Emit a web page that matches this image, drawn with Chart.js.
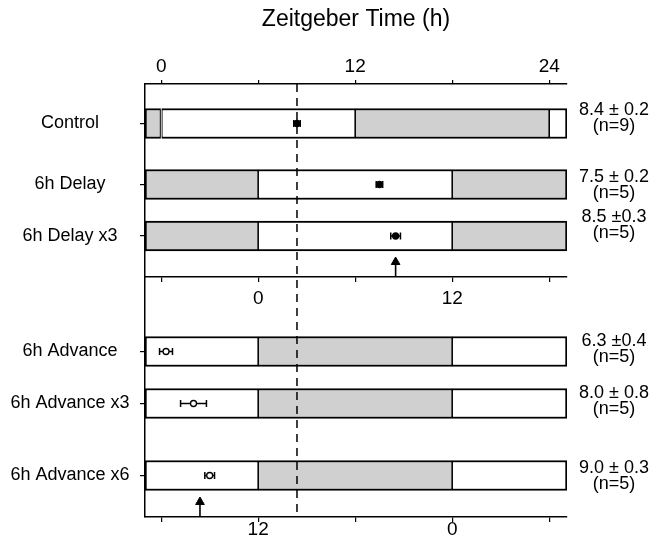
<!DOCTYPE html>
<html>
<head>
<meta charset="utf-8">
<script src="https://cdn.jsdelivr.net/npm/chart.js@4/dist/chart.umd.min.js"></script>
<style>
  body { margin: 0; background: #fff; }
  #wrap { width: 655px; height: 547px; }
</style>
</head>
<body>
<div id="wrap"><canvas id="phaseChart"></canvas></div>
<script>
// groups, top to bottom
var groups = ["Control", "6h Delay", "6h Delay x3", "6h Advance", "6h Advance x3", "6h Advance x6"];
// LD shift of each group relative to control ZT (h), + = delay
var ldShift = [0, 6, 6, -6, -6, -6];
// activity onset in each group's own ZT (h), SEM and n
var onsetMean = [8.4, 7.5, 8.5, 6.3, 8.0, 9.0];
var onsetSem = [0.2, 0.2, 0.3, 0.4, 0.8, 0.3];
var nAnimals = [9, 5, 5, 5, 5, 5];
var openMarker = [false, false, false, true, true, true];
var statText = ["8.4 \u00b1 0.2", "7.5 \u00b1 0.2", "8.5 \u00b10.3", "6.3 \u00b10.4", "8.0 \u00b1 0.8", "9.0 \u00b1 0.3"];
// arrows (own ZT, h)
var arrowTime = [null, null, 8.5, null, null, 8.4];
// axis ticks (control ZT)
var tickHours = [0, 6, 12, 18, 24];
var midShift = 6, bottomShift = -6;
var tMin = -1, tMax = 25.1;

// layout of the lanes (vertical units, 0 = top of plot)
var laneMax = 433;
var lanePos = [39.5, 100.5, 152, 267.5, 319.5, 391.5];
var midAxisPos = 193;
var arrowBase = [null, null, midAxisPos, null, null, laneMax];
var statOffset = [-8.5, -2.5, -14, -5.5, -5.5, -2.5];

Chart.defaults.font.family = '"Liberation Sans", Arial, sans-serif';
Chart.defaults.color = "#000";

function addSeg(arr, a, b, y) {
  a = Math.max(a, tMin);
  b = Math.min(b, tMax);
  if (b > a) arr.push({ x: [a, b], y: y });
}

var lightBars = [], darkBars = [];
groups.forEach(function(g, i) {
  for (var k = -1; k <= 1; k++) {
    var on = ldShift[i] + 24 * k;
    addSeg(lightBars, on, on + 12, lanePos[i]);
    addSeg(darkBars, on + 12, on + 24, lanePos[i]);
  }
});

// inner dividers are shared by two segments, so give each half the width
function segBorder(ctx) {
  var r = ctx.raw;
  if (!r) return 2;
  return { top: 2, bottom: 2, left: r.x[0] <= tMin ? 2 : 1.1, right: r.x[1] >= tMax ? 2 : 1.1 };
}

var datasets = [];

// onset markers
datasets.push({
  type: "line",
  showLine: false,
  data: groups.map(function(g, i) { return { x: onsetMean[i] + ldShift[i], y: lanePos[i] }; }),
  pointRadius: 3,
  pointStyle: "circle",
  pointBackgroundColor: openMarker.map(function(o) { return o ? "#fff" : "#000"; }),
  pointBorderColor: "#000",
  pointBorderWidth: 1.3,
  xAxisID: "x", yAxisID: "y",
  order: 0
});

// error bars
groups.forEach(function(g, i) {
  var m = onsetMean[i] + ldShift[i];
  datasets.push({
    type: "line",
    data: [{ x: m - onsetSem[i], y: lanePos[i] }, { x: m + onsetSem[i], y: lanePos[i] }],
    borderColor: "#000",
    borderWidth: 1.5,
    pointStyle: "line",
    pointRotation: 90,
    pointRadius: 3.5,
    pointBorderWidth: 1.5,
    pointBorderColor: "#000",
    xAxisID: "x", yAxisID: "y",
    order: 1
  });
});

// arrows
groups.forEach(function(g, i) {
  if (arrowTime[i] === null) return;
  var t = arrowTime[i] + ldShift[i];
  datasets.push({
    type: "line",
    data: [{ x: t, y: arrowBase[i] }, { x: t, y: arrowBase[i] - 15 }],
    borderColor: "#000",
    borderWidth: 1.6,
    pointStyle: "triangle",
    pointRadius: [0, 5],
    pointBackgroundColor: "#000",
    pointBorderColor: "#000",
    pointBorderWidth: 1,
    xAxisID: "x", yAxisID: "y",
    order: 1
  });
});

// control onset reference
datasets.push({
  type: "line",
  data: [{ x: onsetMean[0], y: 0 }, { x: onsetMean[0], y: laneMax }],
  borderColor: "#000",
  borderWidth: 1.5,
  borderDash: [8, 6],
  pointRadius: 0,
  xAxisID: "x", yAxisID: "y",
  order: 2
});

// light / dark bars
datasets.push({
  label: "light",
  data: lightBars,
  backgroundColor: "#fff",
  borderColor: "#000",
  borderWidth: segBorder,
  borderSkipped: false,
  barThickness: 30,
  grouped: false,
  xAxisID: "x", yAxisID: "y",
  order: 3
});
datasets.push({
  label: "dark",
  data: darkBars,
  backgroundColor: "#d0d0d0",
  borderColor: "#000",
  borderWidth: segBorder,
  borderSkipped: false,
  barThickness: 30,
  grouped: false,
  xAxisID: "x", yAxisID: "y",
  order: 3
});

function setHourTicks(scale) {
  scale.ticks = tickHours.map(function(v) { return { value: v }; });
}
function shiftedLabel(shift) {
  return function(v) {
    var h = ((v - shift) % 24 + 24) % 24;
    return h % 12 === 0 ? String(h) : "";
  };
}

var statLabels = {
  id: "statLabels",
  afterDraw: function(chart) {
    var ctx = chart.ctx, ys = chart.scales.y, x = chart.chartArea.right + 47;
    ctx.save();
    ctx.fillStyle = "#000";
    ctx.textAlign = "center";
    ctx.textBaseline = "alphabetic";
    ctx.font = '18px "Liberation Sans", Arial, sans-serif';
    groups.forEach(function(g, i) {
      var py = ys.getPixelForValue(lanePos[i]) + statOffset[i];
      ctx.fillText(statText[i], x, py);
      ctx.fillText("(n=" + nAnimals[i] + ")", x, py + 15.5);
    });
    ctx.restore();
  }
};

var chart = new Chart(document.getElementById("phaseChart").getContext("2d"), {
  type: "bar",
  data: { datasets: datasets },
  plugins: [statLabels],
  options: {
    indexAxis: "y",
    responsive: true,
    maintainAspectRatio: false,
    animation: false,
    layout: { padding: { left: 0, right: 88, top: 0, bottom: 0 } },
    plugins: { legend: { display: false }, tooltip: { enabled: false } },
    scales: {
      x: {
        type: "linear", position: "top", min: tMin, max: tMax,
        afterBuildTicks: setHourTicks,
        afterFit: function(s) { s.height = 84; },
        ticks: {
          callback: function(v) { return v % 12 === 0 ? String(v) : ""; },
          font: { size: 19 }, padding: 2, maxRotation: 0, autoSkip: false
        },
        grid: { drawOnChartArea: false, tickLength: 4, color: "#000", lineWidth: 1.2 },
        border: { color: "#000", width: 1.5 },
        title: { display: true, text: "Zeitgeber Time (h)", font: { size: 23 }, padding: { top: 6, bottom: 0 } }
      },
      x2: {
        type: "linear", position: { y: midAxisPos }, min: tMin, max: tMax,
        afterBuildTicks: setHourTicks,
        ticks: { callback: shiftedLabel(midShift), font: { size: 19 }, padding: 5.5, maxRotation: 0, autoSkip: false },
        grid: { drawOnChartArea: false, tickLength: 4.5, color: "#000", lineWidth: 1.2 },
        border: { color: "#000", width: 1.5 }
      },
      x3: {
        type: "linear", position: "bottom", min: tMin, max: tMax,
        afterBuildTicks: setHourTicks,
        afterFit: function(s) { s.height = 30; },
        ticks: { callback: shiftedLabel(bottomShift), font: { size: 19, lineHeight: 1 }, padding: -2, maxRotation: 0, autoSkip: false },
        grid: { drawOnChartArea: false, tickLength: 5, color: "#000", lineWidth: 1.2 },
        border: { color: "#000", width: 1.5 }
      },
      y: {
        type: "linear", position: "left", reverse: true, min: 0, max: laneMax, offset: false,
        afterBuildTicks: function(s) { s.ticks = lanePos.map(function(v) { return { value: v }; }); },
        afterFit: function(s) { s.width = 145; },
        ticks: {
          callback: function(v, i) { return groups[i]; },
          font: { size: 18 }, crossAlign: "center", padding: 10.5, autoSkip: false
        },
        grid: { drawOnChartArea: false, offset: false, tickLength: 5, color: "#000", lineWidth: 1.2 },
        border: { color: "#000", width: 1.5 }
      }
    }
  }
});
</script>
</body>
</html>
